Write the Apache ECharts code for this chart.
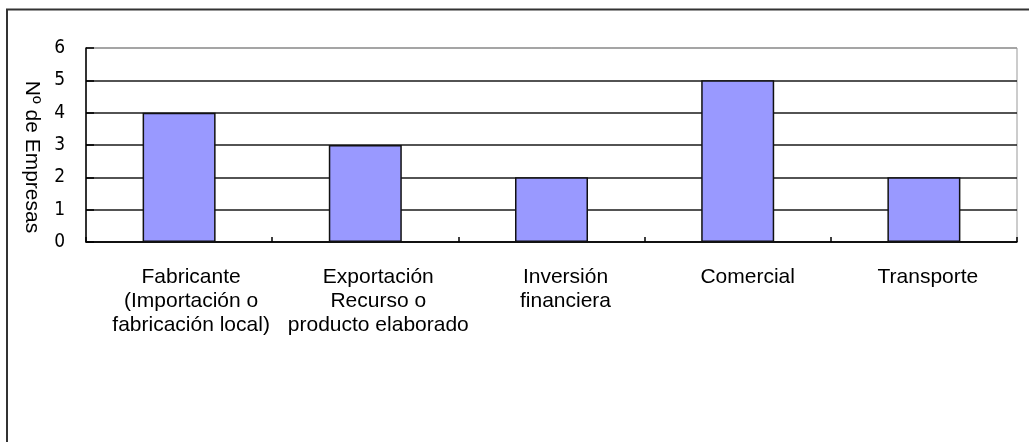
<!DOCTYPE html>
<html>
<head>
<meta charset="utf-8">
<script src="https://cdn.jsdelivr.net/npm/echarts@6/dist/echarts.min.js"></script>
<style>
html,body{margin:0;padding:0;background:#fff;}
#chart{width:1029px;height:442px;}
</style>
</head>
<body>
<div id="chart"></div>
<script>
const categories = [
  "Fabricante\n(Importación o\nfabricación local)",
  "Exportación\nRecurso o\nproducto elaborado",
  "Inversión\nfinanciera",
  "Comercial",
  "Transporte"
];
const values = [4, 3, 2, 5, 2];
const yTicks = [0, 1, 2, 3, 4, 5, 6];
const yAxisTitle = "Nº de Empresas";
const labelShift = [24, 26, 28, 20, 8];

const chart = echarts.init(document.getElementById('chart'), null, {renderer: 'canvas'});
chart.setOption({
  animation: false,
  backgroundColor: '#fff',
  grid: {left: 86, right: 12, top: 48, bottom: 200, show: true, borderColor: '#999', borderWidth: 1, backgroundColor: 'transparent'},
  xAxis: {
    type: 'category',
    data: categories.map((c, i) => ({value: c, textStyle: {padding: [0, 0, 0, labelShift[i]]}})),
    axisLine: {lineStyle: {color: '#000', width: 1.5}},
    axisTick: {show: true, inside: true, length: 5, lineStyle: {color: '#000', width: 1.5}},
    axisLabel: {
      interval: 0, margin: 23, color: '#000',
      fontFamily: '"Liberation Sans", Arial, sans-serif', fontSize: 21, lineHeight: 24
    },
    splitLine: {show: false}
  },
  yAxis: {
    type: 'value',
    min: yTicks[0], max: yTicks[yTicks.length - 1], interval: 1,
    axisLine: {show: true, lineStyle: {color: '#000', width: 1.5}},
    axisTick: {show: true, inside: true, length: 8, lineStyle: {color: '#000', width: 1.5}},
    axisLabel: {
      margin: 21, color: '#000',
      fontFamily: '"Liberation Sans Narrow", "Arial Narrow", "DejaVu Sans Condensed", sans-serif', fontSize: 19
    },
    splitLine: {show: true, lineStyle: {color: ['#1a1a1a', '#1a1a1a', '#1a1a1a', '#1a1a1a', '#1a1a1a', '#1a1a1a', '#999'], width: 1.5}}
  },
  series: [{
    type: 'bar',
    data: values,
    barWidth: 73,
    itemStyle: {color: '#9999FF', borderColor: '#111', borderWidth: 1.5}
  }],
  graphic: [
    {type: 'rect', shape: {x: 7, y: 9.5, width: 1100, height: 1000}, style: {fill: 'none', stroke: '#333', lineWidth: 2}, silent: true, z: 100},
    {type: 'text', x: 32, y: 157, rotation: -Math.PI / 2,
     style: {text: yAxisTitle, x: 0, y: 0, align: 'center', verticalAlign: 'middle', fill: '#000',
             font: '21px "Liberation Sans", Arial, sans-serif'}}
  ]
});
</script>
</body>
</html>
